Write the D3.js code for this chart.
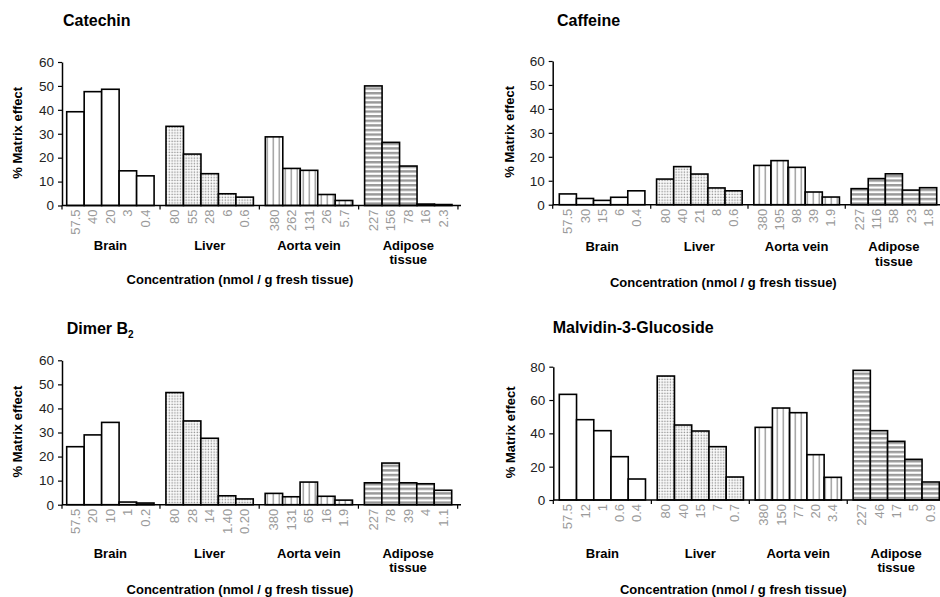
<!DOCTYPE html>
<html>
<head>
<meta charset="utf-8">
<script src="https://cdn.jsdelivr.net/npm/d3@7"></script>
<style>
  body { margin: 0; background: #fff; }
  svg { display: block; font-family: "Liberation Sans", Arial, sans-serif; }
</style>
</head>
<body>
<script>
// tissues (groups) and two-line labels under the axis
var tissues = ["Brain", "Liver", "Aorta vein", "Adipose tissue"];
var tissueLines = [["Brain"], ["Liver"], ["Aorta vein"], ["Adipose", "tissue"]];

// concentration tick labels, 5 per tissue
var catechinConc = ["57.5","40","20","3","0.4", "80","55","28","6","0.6", "380","262","131","26","5.7", "227","156","78","16","2.3"];
var caffeineConc = ["57.5","30","15","6","0.4", "80","40","21","8","0.6", "380","195","98","39","1.9", "227","116","58","23","1.8"];
var dimerConc = ["57.5","20","10","1","0.2", "80","28","14","1.40","0.20", "380","131","65","16","1.9", "227","78","39","4","1.1"];
var malvidinConc = ["57.5","12","1","0.6","0.4", "80","40","15","7","0.7", "380","150","77","20","3.4", "227","46","17","5","0.9"];

// % matrix effect values
var catechinEffect = [39.2,47.6,48.6,14.5,12.4, 33.1,21.5,13.3,4.9,3.5, 28.7,15.5,14.7,4.6,2.1, 50.0,26.4,16.5,0.6,0.4];
var caffeineEffect = [4.5,2.6,1.8,3.1,5.8, 10.7,15.9,12.8,7.0,5.8, 16.4,18.4,15.6,5.3,3.2, 6.7,10.9,12.9,6.1,7.1];
var dimerEffect = [24.1,29.0,34.2,1.1,0.7, 46.6,34.8,27.6,3.7,2.4, 4.7,3.3,9.4,3.5,1.9, 9.1,17.3,9.1,8.7,6.0];
var malvidinEffect = [63.4,48.2,41.6,26.0,12.6, 74.4,45.0,41.4,32.0,13.8, 43.6,55.2,52.4,27.2,13.6, 77.8,41.6,35.2,24.4,10.8];

var yTicks60 = [0,10,20,30,40,50,60];
var yTicks80 = [0,20,40,60,80];

var panels = [
  {title:"Catechin", conc:catechinConc, vals:catechinEffect, ymax:60, ticks:yTicks60,
   axL:62, axR:461, barsL:66.7, barsR:452, y0:205.5, yTop:62,
   titleX:63, titleY:26, yTitleX:17.7, labY:249.5, xTitleX:240, xTitleY:283.5},
  {title:"Caffeine", conc:caffeineConc, vals:caffeineEffect, ymax:60, ticks:yTicks60,
   axL:552.7, axR:940, barsL:559.3, barsR:936.7, y0:204.7, yTop:61,
   titleX:557, titleY:26, yTitleX:509.3, labY:251.4, xTitleX:723.3, xTitleY:287},
  {title:"Dimer B", sub:"2", conc:dimerConc, vals:dimerEffect, ymax:60, ticks:yTicks60,
   axL:62, axR:461, barsL:66.7, barsR:451.7, y0:504.7, yTop:360.3,
   titleX:66.7, titleY:334, yTitleX:17.7, labY:558, xTitleX:240, xTitleY:593.5},
  {title:"Malvidin-3-Glucoside", conc:malvidinConc, vals:malvidinEffect, ymax:80, ticks:yTicks80,
   axL:553.3, axR:940, barsL:559.3, barsR:939.3, y0:500, yTop:366.7,
   titleX:552.7, titleY:333.3, yTitleX:510.7, labY:558, xTitleX:733.3, xTitleY:593.5}
];

var svg = d3.select("body").append("svg").attr("width", 940).attr("height", 597);

// fill patterns, one per tissue
var defs = svg.append("defs");
var pDots = defs.append("pattern").attr("id","pDots").attr("patternUnits","userSpaceOnUse").attr("width",2.8).attr("height",2.8);
pDots.append("rect").attr("width",2.8).attr("height",2.8).attr("fill","#fff");
pDots.append("rect").attr("x",0.6).attr("y",0.6).attr("width",1.4).attr("height",1.4).attr("fill","#8a8a8a");
var pVert = defs.append("pattern").attr("id","pVert").attr("patternUnits","userSpaceOnUse").attr("width",6).attr("height",6);
pVert.append("rect").attr("width",6).attr("height",6).attr("fill","#fff");
pVert.append("rect").attr("x",2.5).attr("width",1.6).attr("height",6).attr("fill","#a8a8a8");
var pHorz = defs.append("pattern").attr("id","pHorz").attr("patternUnits","userSpaceOnUse").attr("width",6).attr("height",4.6);
pHorz.append("rect").attr("width",6).attr("height",4.6).attr("fill","#fff");
pHorz.append("rect").attr("y",0).attr("width",6).attr("height",2.4).attr("fill","#999");
var fills = ["#fff", "url(#pDots)", "url(#pVert)", "url(#pHorz)"];

panels.forEach(function(p){
  var g = svg.append("g");
  var y = d3.scaleLinear().domain([0, p.ymax]).range([p.y0, p.yTop]);
  var gx = d3.scaleBand().domain(tissues).range([p.barsL, p.barsR]).paddingInner(0.12);
  var bx = d3.scaleBand().domain(d3.range(5)).range([0, gx.bandwidth()]);

  var bars = p.vals.map(function(v, i){
    return {v: v, label: p.conc[i], t: Math.floor(i/5), j: i % 5};
  });
  function cx(d){ return gx(tissues[d.t]) + bx(d.j); }

  // bars
  g.selectAll("rect.bar").data(bars).enter().append("rect")
    .attr("class","bar")
    .attr("x", cx)
    .attr("y", function(d){ return y(d.v); })
    .attr("width", bx.bandwidth())
    .attr("height", function(d){ return y(0) - y(d.v); })
    .attr("fill", function(d){ return fills[d.t]; })
    .attr("stroke", "#000").attr("stroke-width", 1.6);

  // y axis
  var ya = g.append("g").attr("transform","translate(" + p.axL + ",0)")
    .call(d3.axisLeft(y).tickValues(p.ticks).tickSize(4).tickSizeOuter(0).tickPadding(4));
  ya.select(".domain").attr("stroke-width",1.5);
  ya.selectAll(".tick line").attr("stroke-width",1.2);
  ya.selectAll(".tick text").attr("font-size",13.5).attr("fill","#222").attr("font-family","Liberation Sans, Arial, sans-serif");

  // x axis with ticks at the group boundaries
  g.append("line").attr("x1", p.axL).attr("x2", p.axR).attr("y1", y(0)).attr("y2", y(0))
    .attr("stroke","#000").attr("stroke-width",1.5);
  var bounds = [p.axL].concat(tissues.map(function(t){
    return gx(t) + gx.bandwidth() + gx.step()*gx.paddingInner()/2;
  }));
  g.selectAll("line.xt").data(bounds).enter().append("line").attr("class","xt")
    .attr("x1", function(d){ return d; }).attr("x2", function(d){ return d; })
    .attr("y1", y(0)).attr("y2", y(0) + 4)
    .attr("stroke","#000").attr("stroke-width",1.2);

  // concentration labels
  g.selectAll("text.conc").data(bars).enter().append("text").attr("class","conc")
    .attr("transform", function(d){
      return "translate(" + (cx(d) + bx.bandwidth()/2) + "," + (y(0) + 4) + ") rotate(-90)";
    })
    .attr("text-anchor","end").attr("dy","0.35em")
    .attr("font-size",13).attr("fill","#9a9a9a")
    .text(function(d){ return d.label; });

  // tissue names
  tissues.forEach(function(t, i){
    var txt = g.append("text").attr("x", gx(t) + gx.bandwidth()/2).attr("y", p.labY)
      .attr("text-anchor","middle").attr("font-size",13).attr("font-weight","bold");
    tissueLines[i].forEach(function(line, k){
      txt.append("tspan").attr("x", gx(t) + gx.bandwidth()/2).attr("dy", k ? 14.3 : 0).text(line);
    });
  });

  // axis titles
  g.append("text").attr("x", p.xTitleX).attr("y", p.xTitleY).attr("text-anchor","middle")
    .attr("font-size",13).attr("font-weight","bold")
    .text("Concentration (nmol / g fresh tissue)");
  g.append("text")
    .attr("transform","translate(" + p.yTitleX + "," + ((p.y0 + p.yTop)/2 - 1) + ") rotate(-90)")
    .attr("text-anchor","middle").attr("dy","0.35em")
    .attr("font-size",13).attr("font-weight","bold")
    .text("% Matrix effect");

  // panel title
  var tt = g.append("text").attr("x", p.titleX).attr("y", p.titleY)
    .attr("font-size",16).attr("font-weight","bold").text(p.title);
  if (p.sub) tt.append("tspan").attr("font-size",10).attr("dy",4).text(p.sub);
});
</script>
</body>
</html>
